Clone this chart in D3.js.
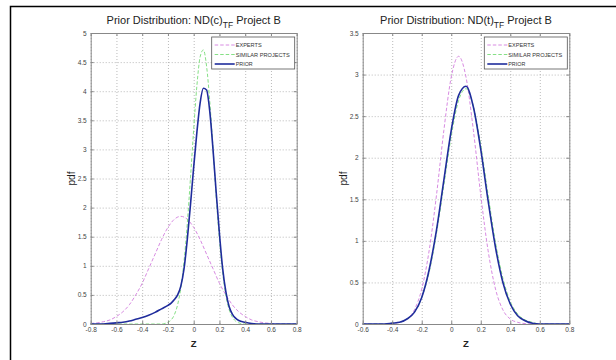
<!DOCTYPE html>
<html>
<head>
<meta charset="utf-8">
<script src="https://cdn.jsdelivr.net/npm/d3@7"></script>
<style>
  body { margin: 0; background: #fff; }
  text { font-family: 'Liberation Sans', Arial, sans-serif; }
</style>
</head>
<body>
<script>
// ---- data: ND(c)_TF panel
const expertsCZ = [-0.8, -0.75, -0.7, -0.65, -0.6, -0.55, -0.5, -0.45, -0.4, -0.35, -0.3, -0.25, -0.2, -0.15, -0.1, -0.05, 0, 0.05, 0.1, 0.15, 0.2, 0.25, 0.3, 0.35, 0.4, 0.45, 0.5, 0.55, 0.6, 0.65, 0.7, 0.75, 0.8]
const expertsC = [0.01, 0.02, 0.04, 0.07, 0.13, 0.21, 0.33, 0.5, 0.7, 0.95, 1.2, 1.45, 1.66, 1.8, 1.85, 1.8, 1.66, 1.45, 1.2, 0.95, 0.7, 0.5, 0.33, 0.21, 0.13, 0.07, 0.04, 0.02, 0.01, 0, 0, 0, 0]

const similarCZ = [-0.8, -0.25, -0.2, -0.175, -0.15, -0.125, -0.1, -0.075, -0.05, -0.025, 0, 0.025, 0.05, 0.075, 0.1, 0.125, 0.15, 0.175, 0.2, 0.225, 0.25, 0.275, 0.3, 0.325, 0.35, 0.4, 0.8]
const similarC = [0, 0, 0.03, 0.07, 0.16, 0.33, 0.62, 1.08, 1.72, 2.51, 3.35, 4.1, 4.59, 4.71, 4.43, 3.82, 3.02, 2.18, 1.45, 0.88, 0.49, 0.25, 0.12, 0.05, 0.02, 0, 0]

const priorCZ = [-0.8, -0.7, -0.65, -0.6, -0.55, -0.5, -0.45, -0.4, -0.35, -0.3, -0.25, -0.2, -0.175, -0.15, -0.125, -0.1, -0.075, -0.05, -0.025, 0, 0.025, 0.05, 0.075, 0.1, 0.125, 0.15, 0.175, 0.2, 0.225, 0.25, 0.275, 0.3, 0.325, 0.35, 0.4, 0.45, 0.5, 0.8]
const priorC = [0, 0, 0.01, 0.02, 0.03, 0.05, 0.08, 0.11, 0.15, 0.2, 0.26, 0.32, 0.36, 0.42, 0.5, 0.65, 0.95, 1.45, 2.05, 2.7, 3.3, 3.8, 4.05, 4.02, 3.65, 3.0, 2.25, 1.55, 0.95, 0.55, 0.3, 0.17, 0.1, 0.06, 0.03, 0.01, 0, 0]

// ---- data: ND(t)_TF panel
const tZ = [-0.6, -0.45, -0.4, -0.35, -0.3, -0.25, -0.2, -0.15, -0.1, -0.05, 0, 0.05, 0.1, 0.15, 0.2, 0.25, 0.3, 0.35, 0.4, 0.45, 0.5, 0.55, 0.6, 0.8]
const expertsT = [0, 0, 0.005, 0.02, 0.06, 0.17, 0.42, 0.88, 1.55, 2.33, 2.97, 3.22, 2.97, 2.33, 1.55, 0.88, 0.42, 0.17, 0.06, 0.02, 0.005, 0, 0, 0]
const similarT = [0, 0, 0.01, 0.02, 0.06, 0.14, 0.32, 0.62, 1.09, 1.67, 2.26, 2.69, 2.83, 2.62, 2.15, 1.55, 0.98, 0.55, 0.27, 0.12, 0.05, 0.02, 0, 0]
const priorT = [0, 0, 0.01, 0.02, 0.06, 0.14, 0.32, 0.65, 1.13, 1.73, 2.33, 2.75, 2.86, 2.61, 2.1, 1.48, 0.92, 0.5, 0.24, 0.1, 0.04, 0.01, 0, 0]

// ---- ticks / labels
const xTicksC = [-0.8, -0.6, -0.4, -0.2, 0, 0.2, 0.4, 0.6, 0.8]
const yTicksC = [0, 0.5, 1, 1.5, 2, 2.5, 3, 3.5, 4, 4.5, 5]
const xTicksT = [-0.6, -0.4, -0.2, 0, 0.2, 0.4, 0.6, 0.8]
const yTicksT = [0, 0.5, 1, 1.5, 2, 2.5, 3, 3.5]
const seriesNames = ['EXPERTS', 'SIMILAR PROJECTS', 'PRIOR']
const legendWidths = [26, 54, 17]

const style = [
  { color: '#d88be2', width: 1, dash: '3.5,2' },
  { color: '#86e086', width: 1, dash: '3.5,2' },
  { color: '#1f2c9c', width: 1.6, dash: null }
]

const svg = d3.select('body').append('svg')
  .attr('width', 616)
  .attr('height', 360)

// outer frame (top and left edges visible)
svg.append('path')
  .attr('d', 'M10.5,360 V6.5 H616')
  .attr('fill', 'none')
  .attr('stroke', '#000')
  .attr('stroke-width', 1.5)

const panel = (opts) => {
  const { left, right, top, bottom, xDomain, yDomain, xTicks, yTicks, sym, series } = opts
  const x = d3.scaleLinear().domain(xDomain).range([left, right])
  const y = d3.scaleLinear().domain(yDomain).range([bottom, top])
  const g = svg.append('g')

  // grid
  g.append('g')
    .attr('transform', `translate(0,${bottom})`)
    .call(d3.axisBottom(x).tickValues(xTicks).tickSize(-(bottom - top)).tickFormat(''))
    .call(a => a.select('.domain').remove())
    .selectAll('line')
    .attr('stroke', '#a8a8a8')
    .attr('stroke-width', 0.8)
    .attr('stroke-dasharray', '1,2')
  g.append('g')
    .attr('transform', `translate(${left},0)`)
    .call(d3.axisLeft(y).tickValues(yTicks).tickSize(-(right - left)).tickFormat(''))
    .call(a => a.select('.domain').remove())
    .selectAll('line')
    .attr('stroke', '#a8a8a8')
    .attr('stroke-width', 0.8)
    .attr('stroke-dasharray', '1,2')

  // curves
  const line = d3.line().x(d => x(d[0])).y(d => y(d[1])).curve(d3.curveMonotoneX)
  series.forEach((s, i) => {
    g.append('path')
      .datum(d3.zip(s.z, s.v))
      .attr('d', line)
      .attr('fill', 'none')
      .attr('stroke', style[i].color)
      .attr('stroke-width', style[i].width)
      .attr('stroke-dasharray', style[i].dash)
  })

  // axes box + inward ticks
  const axisStyle = a => {
    a.select('.domain').attr('stroke', '#888')
    a.selectAll('.tick line').attr('stroke', '#888')
    a.selectAll('text').attr('fill', '#444').attr('font-size', 6.5)
  }
  g.append('g')
    .attr('transform', `translate(0,${bottom})`)
    .call(d3.axisBottom(x).tickValues(xTicks).tickSizeInner(-3).tickSizeOuter(0).tickPadding(3).tickFormat(d => d))
    .call(axisStyle)
  g.append('g')
    .attr('transform', `translate(0,${top})`)
    .call(d3.axisTop(x).tickValues(xTicks).tickSizeInner(-3).tickSizeOuter(0).tickFormat(''))
    .call(axisStyle)
  g.append('g')
    .attr('transform', `translate(${left},0)`)
    .call(d3.axisLeft(y).tickValues(yTicks).tickSizeInner(-3).tickSizeOuter(0).tickPadding(4).tickFormat(d => d))
    .call(axisStyle)
  g.append('g')
    .attr('transform', `translate(${right},0)`)
    .call(d3.axisRight(y).tickValues(yTicks).tickSizeInner(-3).tickSizeOuter(0).tickFormat(''))
    .call(axisStyle)

  // title
  const cx = (left + right) / 2
  const title = g.append('text')
    .attr('x', cx)
    .attr('y', 24)
    .attr('text-anchor', 'middle')
    .attr('font-size', 11)
    .attr('fill', '#222')
  title.append('tspan').text(`Prior Distribution: ND(${sym})`)
  title.append('tspan').attr('dy', 4).attr('font-size', 8.5).text('TF')
  title.append('tspan').attr('dy', -4).text(' Project B')

  // axis labels
  g.append('text')
    .attr('transform', `translate(${left - 16},${(top + bottom) / 2}) rotate(-90)`)
    .attr('text-anchor', 'middle')
    .attr('font-size', 10)
    .attr('fill', '#222')
    .text('pdf')
  g.append('text')
    .attr('x', cx)
    .attr('y', bottom + 23)
    .attr('text-anchor', 'middle')
    .attr('font-size', 9.5)
    .attr('font-weight', 'bold')
    .attr('fill', '#222')
    .text('Z')

  // legend
  const lx = right - 85
  const ly = top + 4
  const leg = g.append('g')
  leg.append('rect')
    .attr('x', lx).attr('y', ly)
    .attr('width', 83).attr('height', 32)
    .attr('fill', '#fff')
    .attr('stroke', '#555')
    .attr('stroke-width', 0.8)
  seriesNames.forEach((name, i) => {
    const yy = ly + 8 + i * 9.5
    leg.append('line')
      .attr('x1', lx + 3).attr('x2', lx + 23)
      .attr('y1', yy).attr('y2', yy)
      .attr('stroke', style[i].color)
      .attr('stroke-width', style[i].width)
      .attr('stroke-dasharray', style[i].dash)
    leg.append('text')
      .attr('x', lx + 24)
      .attr('y', yy + 2.2)
      .attr('font-size', 6)
      .attr('fill', '#333')
      .attr('textLength', legendWidths[i])
      .attr('lengthAdjust', 'spacingAndGlyphs')
      .text(name)
  })
}

panel({
  left: 90.7, right: 296.7, top: 33, bottom: 324,
  xDomain: [-0.8, 0.8], yDomain: [0, 5],
  xTicks: xTicksC, yTicks: yTicksC, sym: 'c',
  series: [
    { z: expertsCZ, v: expertsC },
    { z: similarCZ, v: similarC },
    { z: priorCZ, v: priorC }
  ]
})

panel({
  left: 362.7, right: 569.3, top: 33, bottom: 324,
  xDomain: [-0.6, 0.8], yDomain: [0, 3.5],
  xTicks: xTicksT, yTicks: yTicksT, sym: 't',
  series: [
    { z: tZ, v: expertsT },
    { z: tZ, v: similarT },
    { z: tZ, v: priorT }
  ]
})
</script>
</body>
</html>
